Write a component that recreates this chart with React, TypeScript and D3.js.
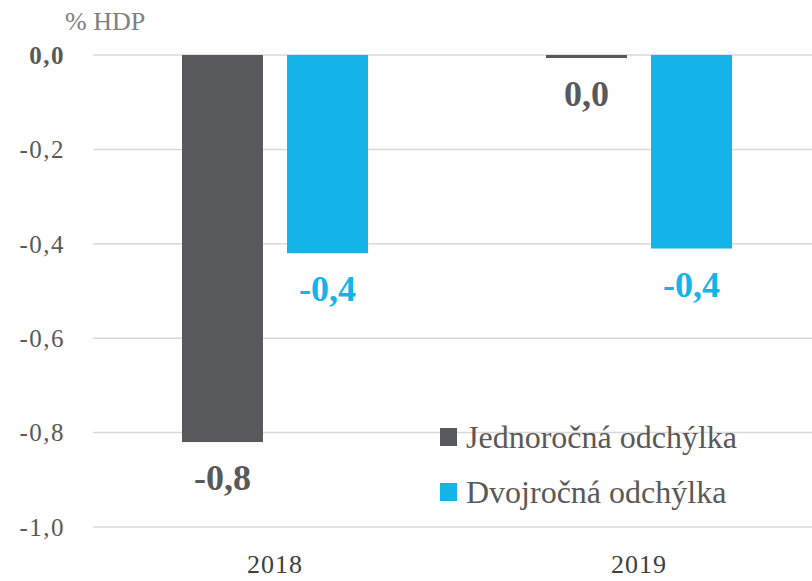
import * as d3 from 'd3'

const years = ['2018', '2019']
const seriesNames = ['Jednoročná odchýlka', 'Dvojročná odchýlka']
const oneYear = [-0.82, -0.006]
const twoYear = [-0.42, -0.41]
const shownLabels = [['-0,8', '0,0'], ['-0,4', '-0,4']]
const yTicks = [0, -0.2, -0.4, -0.6, -0.8, -1.0]
const colors = ['#58595b', '#14b4e8']

const W = 812
const H = 581
const font = 'Liberation Serif'

export default function App() {
  const y = d3.scaleLinear().domain([0, -1]).range([55, 527])
  const x = d3.scaleBand<string>().domain(years).range([93, 821])
  const inner = d3.scaleBand<number>().domain([0, 1]).range([89, 275]).paddingInner(0.229)
  const values = [oneYear, twoYear]
  const fmt = (v: number) => d3.format('.1f')(v).replace('.', ',').replace('−', '-')

  return (
    <svg width={W} height={H} fontFamily={font} style={{ position: 'absolute', left: 0, top: 0 }}>
      <rect width={W} height={H} fill="#fff" />
      {yTicks.map(t => (
        <g key={t}>
          <line x1={93} x2={W} y1={y(t)} y2={y(t)} stroke="#d9d9d9" strokeWidth={1.5} />
          <text x={65} y={y(t)} dy="0.35em" textAnchor="end" fontSize={25} letterSpacing={1.5}
            fill="#595959" fontWeight={t === 0 ? 'bold' : 'normal'}>{fmt(t)}</text>
        </g>
      ))}
      <text x={65} y={30} fontSize={26} fill="#808080">% HDP</text>
      {values.map((vals, s) => vals.map((v, i) => {
        const bx = x(years[i])! + inner(s)!
        const y0 = y(0)
        const y1 = y(v)
        return (
          <g key={s + '-' + i}>
            <rect x={bx} width={inner.bandwidth()} y={y0} height={Math.max(y1 - y0, 3)} fill={colors[s]} />
            <text x={bx + inner.bandwidth() / 2} y={Math.max(y1, y0 + 3) + 48} textAnchor="middle"
              fontSize={36} fontWeight="bold" fill={colors[s]}>{shownLabels[s][i]}</text>
          </g>
        )
      }))}
      {years.map(yr => (
        <text key={yr} x={x(yr)! + x.bandwidth() / 2} y={573} textAnchor="middle" fontSize={26} letterSpacing={1} fill="#404040">{yr}</text>
      ))}
      {seriesNames.map((n, i) => (
        <g key={n} transform={`translate(440,${437 + i * 55})`}>
          <rect x={0} y={-9} width={17} height={18} fill={colors[i]} />
          <text x={26} y={0} dy="0.35em" fontSize={32} fill="#595959">{n}</text>
        </g>
      ))}
    </svg>
  )
}
